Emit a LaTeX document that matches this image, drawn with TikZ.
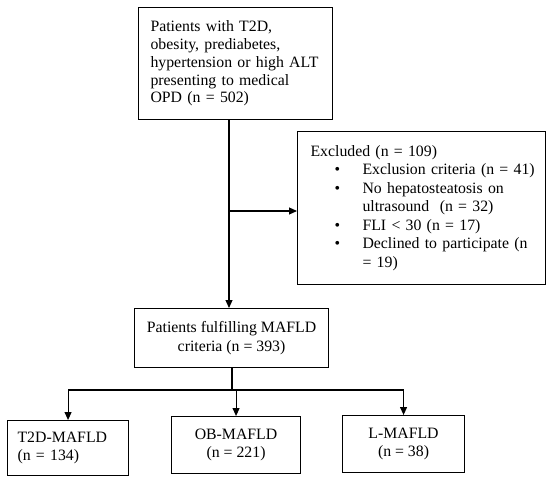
\documentclass[tikz,border=0pt]{standalone}
\usepackage{fontspec}
\setmainfont{Liberation Serif}
\usetikzlibrary{arrows.meta,calc}
\newcommand{\bitem}[1]{\hspace*{24pt}\makebox[28pt][l]{\textbullet}\mbox{#1}}
\begin{document}
\begin{tikzpicture}[x=1pt,y=-1pt,
  box/.style={draw, line width=1.1pt, inner ysep=0pt, anchor=north west,
    font=\fontsize{15.8}{18.5}\selectfont},
  arr/.style={line width=1.1pt, -{Triangle[length=8pt,width=7pt]}},
  conn/.style={line width=1.1pt}]
\useasboundingbox (0,0) rectangle (550,480);
\fill[white] (0,0) rectangle (550,480);

\node[box, text width=170pt, inner xsep=12pt, minimum height=112pt, align=left,
  font=\fontsize{15.8}{17.8}\selectfont] (top) at (138,7)
  {Patients with T2D,\\ obesity, prediabetes,\\ hypertension or high ALT\\ presenting to medical\\ OPD (n = 502)};

\node[box, text width=222pt, inner xsep=13pt, minimum height=153pt, align=left] (excl) at (297,131)
  {Excluded (n = 109)\\
   \bitem{Exclusion criteria (n = 41)}\\
   \bitem{No hepatosteatosis on}\\
   \hspace*{52pt}\mbox{ultrasound\ \ (n = 32)}\\
   \bitem{FLI < 30 (n = 17)}\\
   \bitem{Declined to participate (n}\\
   \hspace*{52pt}\mbox{= 19)}};

\node[box, minimum width=194pt, minimum height=59pt, align=center] (mafld) at (134,308)
  {Patients fulfilling MAFLD\\ criteria (n = 393)};

\node[box, text width=101pt, inner xsep=10pt, minimum height=55pt, align=left] (t2d) at (7,420)
  {T2D-MAFLD\\ (n = 134)};
\node[box, minimum width=129pt, minimum height=57pt, align=center] (ob) at (171,416)
  {OB-MAFLD\\ (n = 221)};
\node[box, minimum width=122pt, minimum height=57pt, align=center] (lm) at (342,415)
  {L-MAFLD\\ (n = 38)};

\coordinate (spine) at (229,0);
\draw[arr] (top.south -| spine) -- (mafld.north -| spine);
\coordinate (junc) at (229,211);
\draw[arr] (junc) -- (junc -| excl.west);

\coordinate (split) at (232,390);
\draw[conn] (mafld.south -| split) -- (split);
\draw[arr] (split) -| (t2d.north);
\draw[arr] (split) -| (lm.north);
\draw[arr] (split -| ob.north) -- (ob.north);
\end{tikzpicture}
\end{document}
